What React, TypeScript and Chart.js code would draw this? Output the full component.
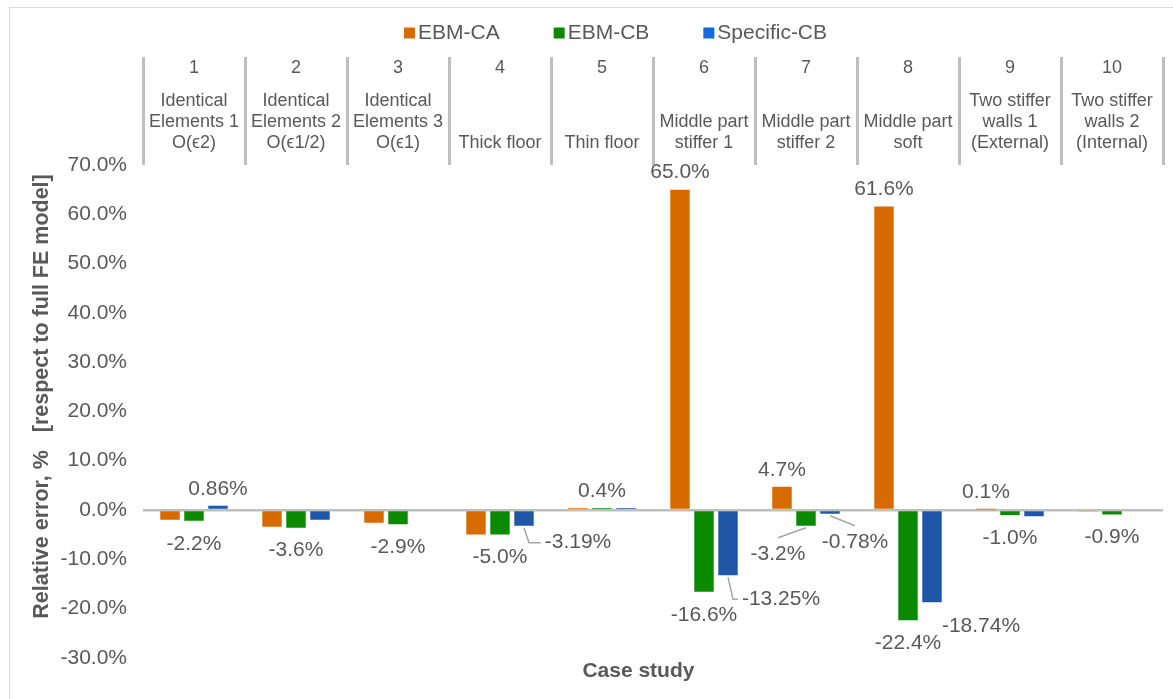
import React, { useEffect, useRef } from 'react';
import { Chart, registerables } from 'chart.js';

Chart.register(...registerables);

// ---------- data ----------
const categories = ['1', '2', '3', '4', '5', '6', '7', '8', '9', '10'];
const caseNames = [
  ['Identical', 'Elements 1', 'O(ϵ2)'],
  ['Identical', 'Elements 2', 'O(ϵ1/2)'],
  ['Identical', 'Elements 3', 'O(ϵ1)'],
  ['Thick floor'],
  ['Thin floor'],
  ['Middle part', 'stiffer 1'],
  ['Middle part', 'stiffer 2'],
  ['Middle part', 'soft'],
  ['Two stiffer', 'walls 1', '(External)'],
  ['Two stiffer', 'walls 2', '(Internal)'],
];
const seriesNames = ['EBM-CA', 'EBM-CB', 'Specific-CB'];
const ebmCA = [-2.0, -3.4, -2.6, -5.0, 0.4, 65.0, 4.7, 61.6, 0.1, -0.3];
const ebmCB = [-2.2, -3.6, -2.9, -5.0, 0.4, -16.6, -3.2, -22.4, -1.0, -0.9];
const specificCB = [0.86, -2.0, 0, -3.19, 0.4, -13.25, -0.78, -18.74, -1.3, 0];
const ebmCALabels = [null, null, null, null, null, '65.0%', '4.7%', '61.6%', '0.1%', null];
const ebmCBLabels = ['-2.2%', '-3.6%', '-2.9%', '-5.0%', '0.4%', '-16.6%', '-3.2%', '-22.4%', '-1.0%', '-0.9%'];
const specificCBLabels = ['0.86%', null, null, '-3.19%', null, '-13.25%', '-0.78%', '-18.74%', null, null];
const yMin = -30;
const yMax = 70;
const yStep = 10;
const xTitle = 'Case study';
const yTitle = 'Relative error, %   [respect to full FE model]';

// ---------- style ----------
const FONT = '"Liberation Sans", Arial, Helvetica, sans-serif';
const TEXT = '#595959';
const GRAY = '#BFBFBF';
const barColors = ['#D86B00', '#0B8A00', '#1F56A8'];
const legendColors = ['#D86B00', '#0B8A00', '#1468E0'];
const labelSets = [ebmCALabels, ebmCBLabels, specificCBLabels];
// manual label placement (offsets from bar end) for labels Excel moved
const labelOffsets: Record<string, { dx: number; dy: number; leader?: 'elbow' | 'top' }> = {
  '1-6': { dx: -28, dy: 28, leader: 'top' },
  '2-3': { dx: 54, dy: 17, leader: 'elbow' },
  '2-5': { dx: 53, dy: 24, leader: 'elbow' },
  '2-6': { dx: 25, dy: 28, leader: 'top' },
  '2-7': { dx: 49, dy: 24 },
};

const valueLabelPlugin = {
  id: 'valueLabels',
  afterDatasetsDraw(chart: any) {
    const ctx = chart.ctx;
    ctx.save();
    ctx.font = `21px ${FONT}`;
    ctx.textAlign = 'center';
    ctx.textBaseline = 'middle';
    labelSets.forEach((labels, d) => {
      const meta = chart.getDatasetMeta(d);
      labels.forEach((txt, i) => {
        if (!txt) return;
        const el = meta.data[i];
        const v = chart.data.datasets[d].data[i];
        const c = labelOffsets[`${d}-${i}`];
        const dx = c ? c.dx : 0;
        const dy = c ? c.dy : v >= 0 ? -17 : 23;
        const lx = el.x + dx;
        const ly = el.y + dy;
        if (c && c.leader) {
          const w = ctx.measureText(txt).width;
          ctx.strokeStyle = '#A6A6A6';
          ctx.lineWidth = 1.5;
          ctx.beginPath();
          ctx.moveTo(el.x, el.y + 2);
          if (c.leader === 'elbow') {
            ctx.lineTo(el.x + 5, ly);
            ctx.lineTo(lx - w / 2 - 4, ly);
          } else {
            ctx.lineTo(lx, ly - 16);
          }
          ctx.stroke();
        }
        ctx.fillStyle = TEXT;
        ctx.fillText(txt, lx, ly);
      });
    });
    ctx.restore();
  },
};

const headerPlugin = {
  id: 'caseHeader',
  afterDraw(chart: any) {
    const ctx = chart.ctx;
    const xs = chart.scales.x;
    const top = chart.chartArea.top;
    ctx.save();
    ctx.fillStyle = TEXT;
    ctx.textAlign = 'center';
    ctx.textBaseline = 'middle';
    ctx.font = `18px ${FONT}`;
    categories.forEach((cat, i) => {
      const x = xs.getPixelForValue(i);
      ctx.fillText(cat, x, top - 97);
      const lines = caseNames[i];
      lines.forEach((ln, j) => {
        ctx.fillText(ln, x, top - 22 - (lines.length - 1 - j) * 21);
      });
    });
    // legend
    ctx.font = `21px ${FONT}`;
    ctx.textAlign = 'left';
    let x = 404;
    const y = 33;
    seriesNames.forEach((name, i) => {
      ctx.fillStyle = legendColors[i];
      ctx.fillRect(x, y - 5.5, 11, 11);
      ctx.fillStyle = TEXT;
      ctx.fillText(name, x + 14, y);
      x += 14 + ctx.measureText(name).width + 54;
    });
    ctx.restore();
  },
};

export default function App() {
  const ref = useRef<HTMLCanvasElement>(null);
  useEffect(() => {
    if (!ref.current) return;
    Chart.defaults.font.family = FONT;
    const chart = new Chart(ref.current, {
      type: 'bar',
      data: {
        labels: categories,
        datasets: [ebmCA, ebmCB, specificCB].map((d, i) => ({
          label: seriesNames[i],
          data: d,
          backgroundColor: barColors[i],
          borderWidth: 0,
          categoryPercentage: 0.706,
          barPercentage: 0.81,
        })),
      },
      options: {
        responsive: false,
        animation: false,
        layout: { padding: { top: 57, left: 20, right: 10, bottom: 5 } },
        plugins: { legend: { display: false }, tooltip: { enabled: false } },
        scales: {
          x: {
            position: 'top',
            offset: true,
            grid: { offset: true, drawOnChartArea: false, drawTicks: true, tickLength: 108, color: GRAY, lineWidth: 3 },
            ticks: { display: false },
            border: { display: false },
          },
          x2: {
            type: 'category',
            position: 'bottom',
            labels: categories,
            grid: { display: false, drawTicks: false },
            ticks: { display: false },
            border: { display: false },
            title: {
              display: true,
              text: xTitle + '     ',
              color: TEXT,
              font: { size: 21, weight: 'bold', family: FONT },
              padding: { top: 1, bottom: 10 },
            },
          },
          y: {
            min: yMin,
            max: yMax,
            afterFit: (s: any) => {
              s.width = 123;
            },
            ticks: {
              stepSize: yStep,
              color: TEXT,
              font: { size: 21, family: FONT },
              padding: 16,
              callback: (v: any) => Number(v).toFixed(1) + '%',
            },
            grid: {
              drawTicks: false,
              color: (c: any) => (c.tick && c.tick.value === 0 ? GRAY : 'rgba(0,0,0,0)'),
              lineWidth: 2.5,
            },
            border: { display: false },
            title: {
              display: true,
              text: '     ' + yTitle,
              color: TEXT,
              font: { size: 21.5, weight: 'bold', family: FONT },
              padding: { top: 9, bottom: 6 },
            },
          },
        },
      } as any,
      plugins: [valueLabelPlugin, headerPlugin],
    });
    return () => chart.destroy();
  }, []);
  return (
    <div style={{ position: 'fixed', left: 0, top: 0, width: 1173, height: 699, background: '#fff', overflow: 'hidden' }}>
      <div
        style={{
          position: 'absolute',
          left: 9,
          top: 7,
          width: 1200,
          height: 720,
          borderLeft: '1px solid #D9D9D9',
          borderTop: '1px solid #D9D9D9',
        }}
      />
      <canvas ref={ref} width={1173} height={699} style={{ position: 'absolute', left: 0, top: 0, width: 1173, height: 699 }} />
    </div>
  );
}
